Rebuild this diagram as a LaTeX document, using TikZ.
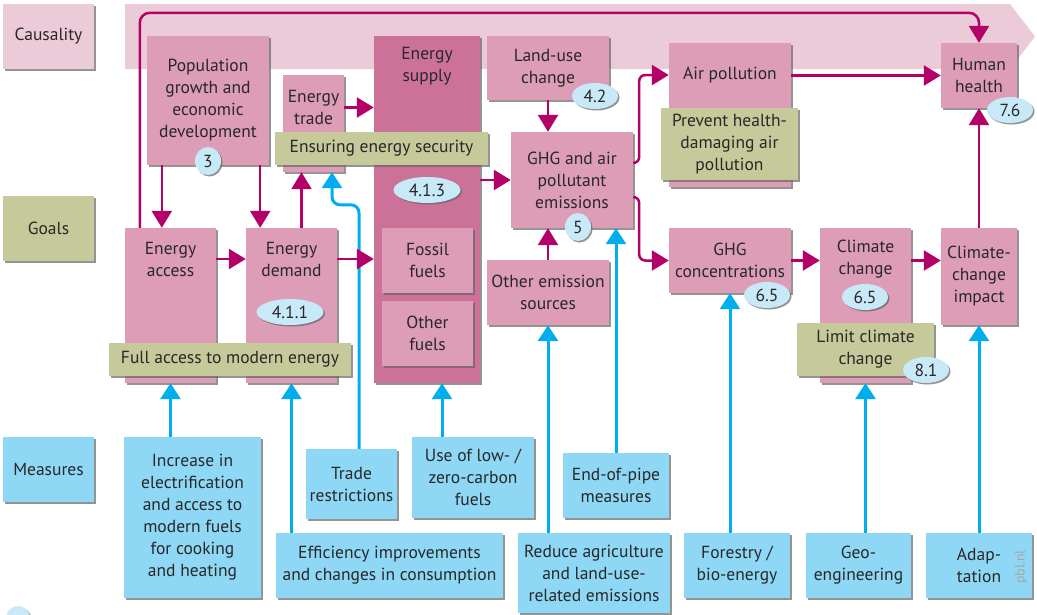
\documentclass[tikz,border=0pt]{standalone}
\usepackage{fontspec}
\setmainfont{PT Sans}
\usetikzlibrary{arrows.meta,shapes.geometric,shadows}

\definecolor{boxpink}{RGB}{221,157,183}
\definecolor{supplypink}{RGB}{204,114,152}
\definecolor{bandpink}{RGB}{236,203,217}
\definecolor{goalolive}{RGB}{198,201,153}
\definecolor{measblue}{RGB}{142,215,245}
\definecolor{arrblue}{RGB}{0,174,239}
\definecolor{arrmag}{RGB}{180,0,105}
\definecolor{tagblue}{RGB}{200,233,247}
\definecolor{txtgray}{RGB}{40,40,40}

\tikzset{
  shade box/.style={drop shadow={shadow xshift=1.5pt,shadow yshift=-1.5pt,fill=black!60,opacity=.7}},
  wh/.style 2 args={minimum width=#1pt,minimum height=#2pt},
  cause/.style={shade box,fill=boxpink,inner sep=0pt,text=txtgray,align=center},
  goal/.style={shade box,fill=goalolive,inner sep=0pt,text=txtgray,align=center},
  measure/.style={shade box,fill=measblue,inner sep=0pt,text=txtgray,align=center},
  tag/.style={shade box,ellipse,fill=tagblue,inner sep=0pt,text=txtgray},
  lbl/.style={text=txtgray,align=center},
  causal/.style={->,draw=arrmag,line width=2.5pt},
  effect/.style={-{Triangle[width=20pt,length=16pt]},draw=arrblue,line width=3pt},
}

\begin{document}
\begin{tikzpicture}[x=1pt,y=-1pt,>={Triangle[width=20pt,length=17pt]},
  font=\fontsize{17.5}{22}\selectfont]
\useasboundingbox (0,0) rectangle (1037,614);

% causality band
\fill[bandpink] (125,4) -- (1010,4) -- (1035,36.5) -- (1010,69) -- (125,69) -- cycle;

% row labels
\node[cause,fill=bandpink,wh={91}{65}] (caus) at (48.5,36.5) {Causality};
\node[goal,wh={91}{65}] (goals) at (48.5,228.5) {Goals};
\node[measure,wh={91}{65}] (meas) at (48.5,469.5) {Measures};

% causal chain
\node[cause,wh={122}{129}] (pop) at (208,100.5) {Population\\growth and\\economic\\development};
\node[cause,wh={61}{97}] (et) at (313.5,123.5) {};
\node[lbl] (ett) at (313.5,107.5) {Energy\\trade};
\node[cause,fill=supplypink,wh={106}{347}] (es) at (427,209.5) {};
\node[lbl] (est) at (427,66.5) {Energy\\supply};
\node[cause,wh={91}{65}] (ff) at (427.5,260.5) {Fossil\\fuels};
\node[cause,wh={91}{65}] (of) at (427.5,333.5) {Other\\fuels};
\node[cause,wh={122}{64}] (lu) at (548,68) {Land-use\\change};
\node[cause,wh={122}{96}] (ghg) at (572,180) {GHG and air\\pollutant\\emissions};
\node[cause,wh={122}{65}] (oes) at (548,292.5) {Other emission\\sources};
\node[cause,wh={122}{144}] (air) at (730,115) {};
\node[lbl] (airt) at (730,75) {Air pollution};
\node[cause,wh={76}{65}] (hh) at (979,75.5) {Human\\health};
\node[cause,wh={122}{65}] (conc) at (730,260.5) {GHG\\concentrations};
\node[cause,wh={91}{155}] (cc) at (865.5,305.5) {};
\node[lbl] (cct) at (865.5,259.5) {Climate\\change};
\node[cause,wh={76}{97}] (cci) at (979,276.5) {Climate-\\change\\impact};
\node[cause,wh={91}{155}] (ea) at (170.5,305.5) {};
\node[lbl] (eat) at (170.5,259) {Energy\\access};
\node[cause,wh={91}{155}] (ed) at (291.5,305.5) {};
\node[lbl] (edt) at (291.5,259) {Energy\\demand};

% goals
\node[goal,wh={213}{33}] (ens) at (381.5,148.5) {Ensuring energy security};
\node[goal,wh={137}{72}] (prev) at (729.5,144) {Prevent health-\\damaging air\\pollution};
\node[goal,wh={137}{53}] (lim) at (865.5,349.5) {Limit climate\\change};
\node[goal,wh={242}{33}] (full) at (230,359.5) {Full access to modern energy};

% chapter tags
\node[tag,wh={26}{28}] (t3) at (208,161) {3};
\node[tag,wh={67}{26}] (t411) at (290,312) {4.1.1};
\node[tag,wh={67}{26}] (t413) at (427,190) {4.1.3};
\node[tag,wh={46}{26}] (t42) at (595,96) {4.2};
\node[tag,wh={26}{28}] (t5) at (578,227) {5};
\node[tag,wh={46}{26}] (t76) at (1010,110) {7.6};
\node[tag,wh={46}{26}] (t65a) at (767,295) {6.5};
\node[tag,wh={46}{26}] (t65b) at (865,297) {6.5};
\node[tag,wh={46}{26}] (t81) at (926,370) {8.1};
\node[tag,wh={24}{24}] (legend) at (18,618) {};

% measures
\node[measure,wh={137}{161}] (inc) at (192.5,517.5) {Increase in\\electrification\\and access to\\modern fuels\\for cooking\\and heating};
\node[measure,wh={227}{65}] (eff) at (389.5,565.5) {Efficiency improvements\\and changes in consumption};
\node[measure,wh={91}{70}] (tr) at (351.5,484) {Trade\\restrictions};
\node[measure,wh={122}{81}] (low) at (473,477.5) {Use of low- /\\zero-carbon\\fuels};
\node[measure,wh={106}{65}] (eop) at (616,485.5) {End-of-pipe\\measures};
\node[measure,wh={152}{80}] (red) at (594,573) {Reduce agriculture\\and land-use-\\related emissions};
\node[measure,wh={106}{65}] (fore) at (737,565.5) {Forestry /\\bio-energy};
\node[measure,wh={105}{65}] (geo) at (858.5,565.5) {Geo-\\engineering};
\node[measure,wh={106}{65}] (adap) at (979,565.5) {Adap-\\tation};
\node[rotate=90,text=black!35,font=\fontsize{14}{14}\selectfont] (pbl) at (1021,567) {pbl.nl};

% measures acting on the chain
\draw[effect] (inc.north -| ea.south) -- (ea.south);
\draw[effect] (eff.north -| ed.south) -- (ed.south);
\draw[effect,rounded corners=8pt] ([xshift=7.5pt]tr.north) -- ++(0,-244) -| ([xshift=18.5pt]et.south);
\draw[effect] ([xshift=-31pt]low.north) -- ([xshift=-31pt]low.north |- es.south);
\draw[effect] (eop.north) -- (eop.north |- ghg.south);
\draw[effect] (red.north -| oes.south) -- (oes.south);
\draw[effect] (fore.north -| conc.south) -- (conc.south);
\draw[effect] (geo.north -| cc.south) -- (cc.south);
\draw[effect] (adap.north) -- (cci.south);

% causal links
\draw[causal,rounded corners=10pt] ([xshift=15pt]ea.north west) |- ([yshift=30pt]hh.north) -- (hh.north);
\draw[causal] ([xshift=15pt]pop.south west) -- ([xshift=15pt]pop.south west |- ea.north);
\draw[causal] ([xshift=-9pt]pop.south east) -- ([xshift=-9pt]pop.south east |- ed.north);
\draw[causal] (ea.east |- eat) -- (ed.west |- eat);
\draw[causal] ([xshift=10pt]ed.north) -- ([xshift=10pt]ed.north |- et.south);
\draw[causal] (et.east |- ett) -- (es.west |- ett);
\draw[causal] (ed.east |- edt) -- (es.west |- edt);
\draw[causal] (es.east |- ghg.west) -- (ghg.west);
\draw[causal] (lu.south) -- (lu.south |- ghg.north);
\draw[causal] (oes.north) -- (oes.north |- ghg.south);
\draw[causal,rounded corners=6pt] ([yshift=17pt]ghg.east) -- ++(6,0) |- (air.west |- airt);
\draw[causal,rounded corners=6pt] ([yshift=-17pt]ghg.east) -- ++(6,0) |- (conc.west);
\draw[causal] (air.east |- hh.west) -- (hh.west);
\draw[causal] (conc.east) -- (conc.east -| cc.west);
\draw[causal] (cc.east |- conc.east) -- (cci.west |- conc.east);
\draw[causal] (cci.north) -- (hh.south);
\end{tikzpicture}
\end{document}
